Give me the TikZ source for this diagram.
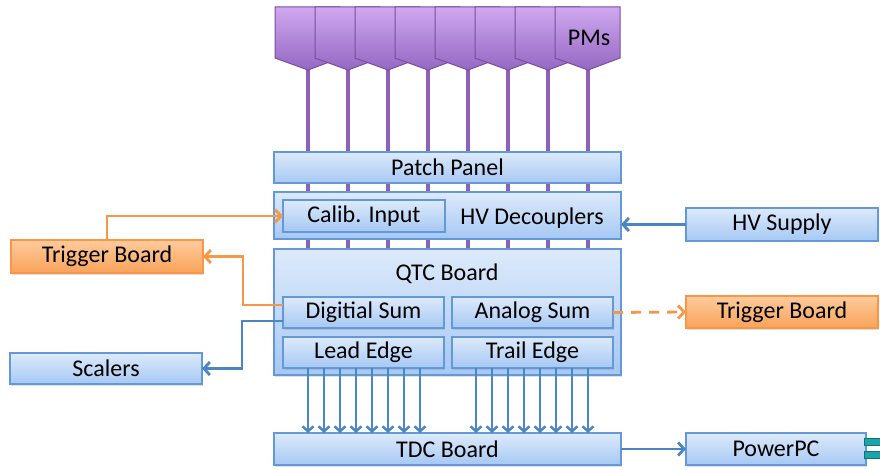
\documentclass[tikz,border=0pt]{standalone}
\usepackage{fontspec}
\setmainfont{Carlito}
\usetikzlibrary{arrows.meta,shadows,calc}
\definecolor{bfillT}{HTML}{DDEAFB}
\definecolor{bfillB}{HTML}{A6C8F3}
\definecolor{bdraw}{HTML}{6399D8}
\definecolor{ofillT}{HTML}{FDCB9C}
\definecolor{ofillB}{HTML}{F9A35A}
\definecolor{odraw}{HTML}{F79646}
\definecolor{oline}{HTML}{F79646}
\definecolor{bline}{HTML}{4A85C4}
\definecolor{pfillT}{HTML}{CFA8F0}
\definecolor{pfillB}{HTML}{9568C2}
\definecolor{pdraw}{HTML}{76509E}
\definecolor{pstem}{HTML}{8F60B8}
\definecolor{teal1}{HTML}{1BA5AA}
\definecolor{teal2}{HTML}{0E7276}
\tikzset{
  txt/.style={font=\fontsize{24}{28}\selectfont, text=black, inner sep=0pt},
  bluebox/.style={draw=bdraw, line width=1.2pt, top color=bfillT, bottom color=bfillB,
    inner sep=0pt, outer sep=0pt, anchor=north west,
    font=\fontsize{24}{28}\selectfont,
    drop shadow={opacity=0.25, shadow xshift=1pt, shadow yshift=-1.5pt}},
  orangebox/.style={bluebox, draw=odraw, top color=ofillT, bottom color=ofillB},
  pmshape/.style={draw=pdraw, line width=1pt, top color=pfillT, bottom color=pfillB},
  stem/.style={draw=pstem, line width=3.2pt},
  barrow/.style={draw=bline, line width=2.8pt, -{Straight Barb[length=6pt,width=13pt]}},
  oarrow/.style={draw=oline, line width=2.8pt, -{Straight Barb[length=6pt,width=13pt]}},
  darrow/.style={draw=bline, line width=2.5pt, -{Straight Barb[length=5pt,width=11pt]}},
}
\begin{document}
\begin{tikzpicture}[x=1pt,y=-1pt]
\useasboundingbox (0,0) rectangle (880,470);
% stems
\foreach \i in {0,...,7}{
  \draw[stem] ({308+40*\i},68) -- ({308+40*\i},250);
}
% PMs
\foreach \i in {0,...,7}{
  \pgfmathsetmacro{\xa}{275+40*\i}
  \draw[pmshape] (\xa,7) -- (\xa+65,7) -- (\xa+65,58) -- (\xa+33,70) -- (\xa,58) -- cycle;
}
\node[txt] (pms) at (589,38) {PMs};
% main column
\node[bluebox, minimum width=347pt, minimum height=31pt] (patch) at (274,152) {Patch Panel};
\node[bluebox, minimum width=347pt, minimum height=47pt] (hv) at (274,192) {};
\node[bluebox, minimum width=162pt, minimum height=32pt] (calib) at (283,200) {Calib. Input};
\node[txt] (hvtext) at (532,218) {HV Decouplers};
\node[bluebox, minimum width=347pt, minimum height=126pt] (qtc) at (274,249) {};
\node[txt] (qtctext) at (447,274) {QTC Board};
\node[bluebox, minimum width=161pt, minimum height=31pt] (dsum) at (283,297) {Digitial Sum};
\node[bluebox, minimum width=161pt, minimum height=31pt] (asum) at (452,297) {Analog Sum};
\node[bluebox, minimum width=161pt, minimum height=31pt] (lead) at (283,337) {Lead Edge};
\node[bluebox, minimum width=161pt, minimum height=31pt] (trail) at (452,337) {Trail Edge};
\node[bluebox, minimum width=347pt, minimum height=32pt] (tdc) at (274,433) {TDC Board};
% side boxes
\node[orangebox, minimum width=192pt, minimum height=33pt] (tbl) at (11,240) {Trigger Board};
\node[bluebox, minimum width=192pt, minimum height=31pt] (scal) at (10,353) {Scalers};
\node[bluebox, minimum width=192pt, minimum height=33pt] (hvs) at (686,208) {HV Supply};
\node[orangebox, minimum width=192pt, minimum height=32pt] (tbr) at (686,296) {Trigger Board};
\node[bluebox, minimum width=180pt, minimum height=32pt] (ppc) at (686,433) {PowerPC};
\fill[teal1, draw=teal2, line width=0.5pt] (864,438) rectangle (880,445);
\fill[teal1, draw=teal2, line width=0.5pt] (864,451) rectangle (880,458);
% connectors
\draw[oarrow] (tbl.north) |- (calib.west);
\coordinate (dsA) at ($(dsum.west)+(0,-7.5)$);
\coordinate (dsB) at ($(dsum.west)+(0,8.5)$);
\draw[oarrow] (dsA) -- (243,305) |- (tbl.east);
\draw[barrow] (dsB) -- (242,321) |- (scal.east);
\draw[barrow] (hvs.west) -- (hvs.west -| hv.east);
\draw[oarrow, dashed, dash pattern=on 10pt off 8pt] (asum.east) -- (tbr.west);
\draw[barrow] (tdc.east) -- (ppc.west);
\foreach \i in {0,...,7}{
  \draw[darrow] (lead.south -| {308+16*\i},0) -- (tdc.north -| {308+16*\i},0);
  \draw[darrow] (trail.south -| {476+16*\i},0) -- (tdc.north -| {476+16*\i},0);
}
\end{tikzpicture}
\end{document}
